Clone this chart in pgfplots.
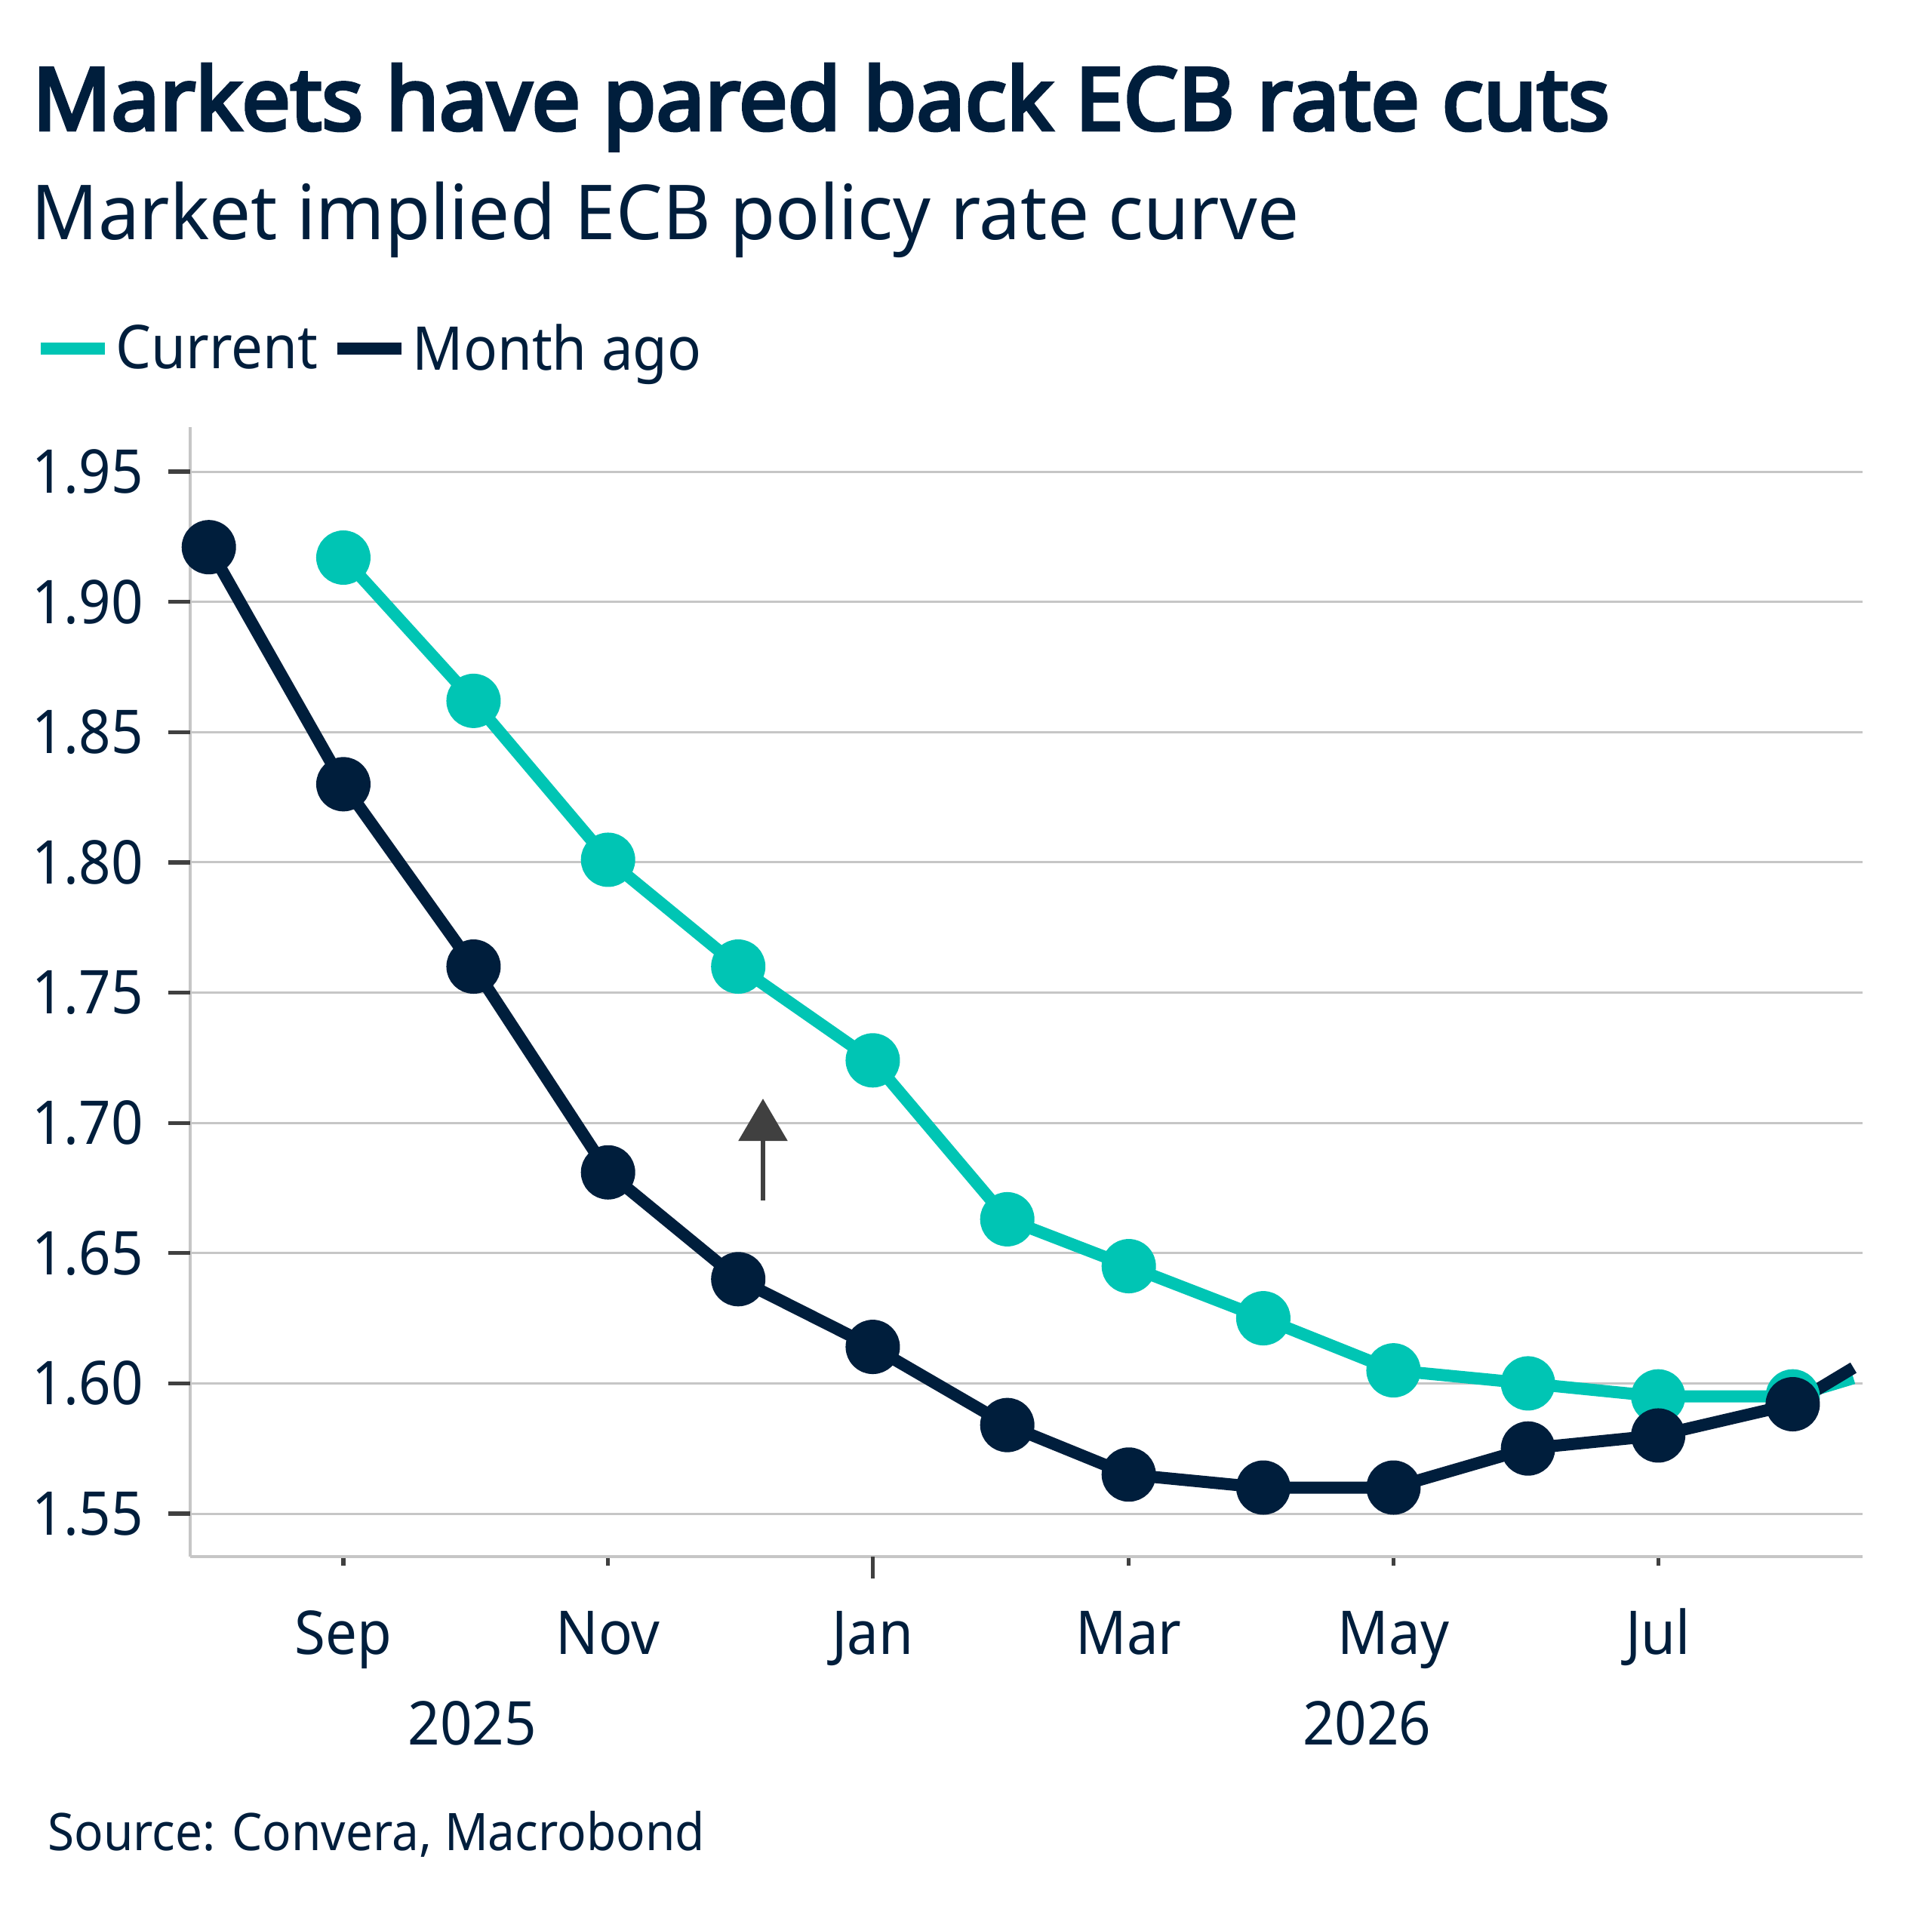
\documentclass[border=0pt]{standalone}
\usepackage{fontspec}
\setmainfont{Noto Sans}[FakeStretch=0.93]
\newfontfamily\titlefont{Noto Sans}[FakeStretch=1.0, FakeBold=4]
\newfontfamily\subfont{Noto Sans}[FakeStretch=0.972]
\usepackage{pgfplots}
\pgfplotsset{compat=1.18}
\usetikzlibrary{arrows.meta}

\definecolor{cteal}{HTML}{00C5B4}
\definecolor{cnavy}{HTML}{001E3C}
\definecolor{cgrid}{HTML}{C6C6C6}
\definecolor{ctick}{HTML}{404040}

% x = days from 1 Sep 2025
\pgfplotstableread{
d     r
0     1.917
30    1.862
61    1.801
91    1.760
122   1.724
153   1.663
181   1.645
212   1.625
242   1.605
273   1.600
303   1.595
334   1.595
348   1.602
}\current

\pgfplotstableread{
d     r
-31   1.921
0     1.830
30    1.760
61    1.681
91    1.640
122   1.614
153   1.584
181   1.565
212   1.560
242   1.560
273   1.575
303   1.580
334   1.592
348   1.606
}\monthago

\begin{document}
\color{cnavy}
\begin{tikzpicture}
\useasboundingbox (0,0) rectangle (384pt,-380.1pt);

\node[anchor=base west, inner sep=0pt, font=\titlefont\fontsize{17.2}{20}\selectfont]
  at (6.3pt,-25.8pt) {Markets have pared back ECB rate cuts};
\node[anchor=base west, inner sep=0pt, font=\subfont\fontsize{15.1}{18}\selectfont]
  at (6pt,-47.55pt) {Market implied ECB policy rate curve};
\node[anchor=base west, inner sep=0pt, font=\fontsize{10.3}{12}\selectfont]
  at (9.3pt,-367.8pt) {Source: Convera, Macrobond};
\node[anchor=base, inner sep=0pt, font=\fontsize{12}{14}\selectfont]
  at (93.9pt,-346.8pt) {2025};
\node[anchor=base, inner sep=0pt, font=\fontsize{12}{14}\selectfont]
  at (271.7pt,-346.8pt) {2026};

\begin{axis}[
  at={(37.8pt,-309.45pt)}, anchor=south west,
  width=332.4pt, height=224.55pt, scale only axis,
  xmin=-35.3, xmax=350.1, ymin=1.5335, ymax=1.9671,
  axis lines*=left,
  axis line style={draw=cgrid, line width=0.6pt},
  ymajorgrids, grid style={draw=cgrid, line width=0.45pt},
  xtick={0,61,122,181,242,303},
  xticklabels={Sep,Nov,Jan,Mar,May,Jul},
  ytick={1.55,1.60,1.65,1.70,1.75,1.80,1.85,1.90,1.95},
  tick align=outside,
  major tick length=1.8pt,
  tick style={draw=ctick, line width=0.8pt},
  extra x ticks={122}, extra x tick labels={},
  extra x tick style={major tick length=4.35pt},
  extra y ticks={1.55,1.60,1.65,1.70,1.75,1.80,1.85,1.90,1.95},
  extra y tick labels={},
  extra y tick style={major tick length=4.35pt, grid=none},
  ticklabel style={font=\fontsize{12}{14}\selectfont, text=cnavy},
  yticklabel style={anchor=east, inner xsep=0pt, xshift=-7.3pt},
  xticklabel style={anchor=base, yshift=-17.7pt},
  /pgf/number format/.cd, fixed, fixed zerofill, precision=2, assume math mode=true,
  /pgfplots/.cd,
  legend columns=-1,
  legend cell align=left,
  legend style={draw=none, fill=none, inner sep=0pt,
    at={(axis description cs:-0.0935,1.0675)}, anchor=west,
    font=\fontsize{12}{14}\selectfont, text=cnavy,
    nodes={inner sep=0pt},
    /tikz/every odd column/.append style={column sep=1.0pt},
    /tikz/every even column/.append style={column sep=2.6pt}},
  legend image code/.code={\draw[line width=2.4pt] (0pt,0.4pt) -- (12.75pt,0.4pt);},
]
\addplot[cteal, line width=2.4pt, line join=round, mark=*, mark size=4.2pt,
  mark options={draw=none, fill=cteal}, mark indices={1,...,12}]
  table[x=d, y=r] {\current};
\addlegendentry{Current}
\addplot[cnavy, line width=2.4pt, line join=round, mark=*, mark size=4.2pt,
  mark options={draw=none, fill=cnavy}, mark indices={1,...,13}]
  table[x=d, y=r] {\monthago};
\addlegendentry{Month ago}

\draw[ctick, line width=0.9pt, -{Triangle[length=8.4pt, width=9.6pt]}]
  (axis cs:96.7,1.6702) -- (axis cs:96.7,1.7093);
\end{axis}
\end{tikzpicture}
\end{document}
